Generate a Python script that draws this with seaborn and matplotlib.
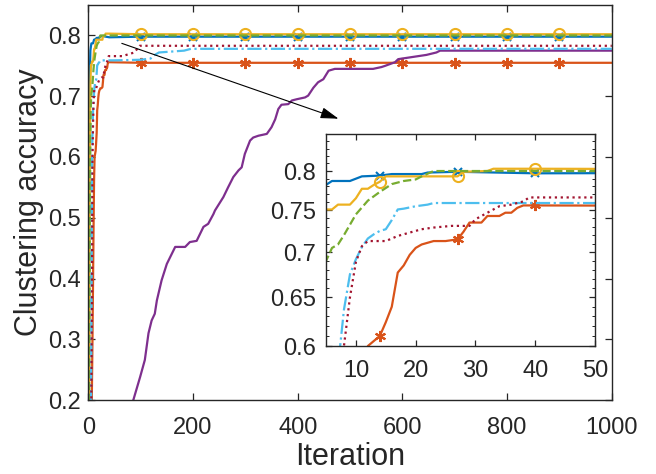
import matplotlib
matplotlib.use("Agg")
import matplotlib.pyplot as plt
import seaborn as sns
from matplotlib.ticker import FixedLocator, NullFormatter

# ---------------- data ----------------
main_marks = [100, 200, 300, 400, 500, 600, 700, 800, 900]
inset_marks = [14, 27, 40]

blue_x = [1, 2, 3, 4, 5, 6, 9, 10, 11, 14, 15, 16, 21, 22, 27, 40,
          100, 200, 300, 400, 500, 600, 700, 800, 900, 1000]
blue_y = [0.15, 0.55, 0.74, 0.775, 0.782, 0.787, 0.787, 0.790, 0.793, 0.794, 0.795, 0.796, 0.796, 0.798, 0.799, 0.797,
          0.798, 0.798, 0.798, 0.798, 0.798, 0.798, 0.798, 0.798, 0.798, 0.798]

orange_x = [1, 6, 8, 10, 11, 12, 13, 14, 15, 16, 17, 18, 19, 20, 21, 23, 25, 27, 28, 29, 31, 32, 34, 35, 36, 37, 38, 40,
            100, 200, 300, 400, 500, 600, 700, 800, 900, 1000]
orange_y = [0.05, 0.15, 0.30, 0.48, 0.56, 0.600, 0.605, 0.610, 0.624, 0.640, 0.677, 0.685, 0.697, 0.705, 0.709, 0.713,
            0.713, 0.715, 0.724, 0.735, 0.735, 0.743, 0.743, 0.747, 0.747, 0.753, 0.756, 0.756,
            0.755, 0.755, 0.755, 0.755, 0.755, 0.755, 0.755, 0.755, 0.755, 0.755]

yellow_x = [1, 2, 3, 4, 5, 6, 7, 9, 10, 11, 12, 13, 14, 15, 20, 27, 28, 32, 33, 40,
            100, 200, 300, 400, 500, 600, 700, 800, 900, 1000]
yellow_y = [0.10, 0.35, 0.60, 0.72, 0.751, 0.751, 0.757, 0.757, 0.765, 0.777, 0.777, 0.782, 0.786, 0.793, 0.793,
            0.793, 0.799, 0.800, 0.803, 0.803,
            0.802, 0.802, 0.802, 0.802, 0.802, 0.802, 0.802, 0.802, 0.802, 0.802]

purple_x = [1, 80, 86, 99, 108, 115, 121, 127, 131, 140, 150, 166, 185, 194, 207, 220, 229, 239, 242, 258, 267, 277,
            287, 293, 299, 309, 315, 325, 341, 350, 357, 363, 369, 382, 389, 398, 414, 420, 430, 439, 449, 459, 471,
            544, 560, 567, 586, 592, 615, 646, 665, 672, 1000]
purple_y = [0.10, 0.185, 0.200, 0.238, 0.266, 0.310, 0.331, 0.342, 0.364, 0.397, 0.424, 0.452, 0.452, 0.460, 0.462,
            0.485, 0.490, 0.506, 0.512, 0.534, 0.550, 0.567, 0.578, 0.583, 0.605, 0.627, 0.632, 0.635, 0.638, 0.649,
            0.662, 0.679, 0.686, 0.687, 0.693, 0.695, 0.698, 0.701, 0.714, 0.723, 0.728, 0.742, 0.745, 0.745, 0.748,
            0.750, 0.756, 0.761, 0.764, 0.768, 0.772, 0.775, 0.775]

green_x = [1, 2, 3, 4, 5, 6, 7, 8, 10, 12, 14, 16, 18, 20, 21, 23,
           100, 200, 300, 400, 500, 600, 700, 800, 900, 1000]
green_y = [0.10, 0.30, 0.50, 0.63, 0.69, 0.705, 0.709, 0.720, 0.745, 0.762, 0.773, 0.783, 0.787, 0.789, 0.793, 0.800,
           0.800, 0.800, 0.800, 0.800, 0.800, 0.800, 0.800, 0.800, 0.800, 0.800]

lightblue_x = [1, 5, 6, 7, 8, 9, 10, 11, 12, 13, 14, 15, 16, 17, 18, 20, 22, 23, 50, 100, 119, 125, 135, 183, 196,
               200, 300, 400, 500, 600, 700, 800, 900, 1000]
lightblue_y = [0.05, 0.15, 0.35, 0.58, 0.637, 0.675, 0.692, 0.706, 0.716, 0.721, 0.725, 0.727, 0.738, 0.751, 0.752,
               0.755, 0.757, 0.759, 0.759, 0.760, 0.762, 0.767, 0.772, 0.775, 0.778,
               0.778, 0.778, 0.778, 0.778, 0.778, 0.778, 0.778, 0.778, 0.778]

darkred_x = [1, 5, 7, 8, 9, 10, 11, 12, 15, 17, 19, 21, 23, 26, 29, 30, 32, 34, 36, 38, 39, 65, 88, 98, 100,
             200, 300, 400, 500, 600, 700, 800, 900, 1000]
darkred_y = [0.05, 0.12, 0.35, 0.60, 0.65, 0.689, 0.707, 0.713, 0.713, 0.719, 0.723, 0.727, 0.729, 0.731, 0.731,
             0.739, 0.747, 0.755, 0.757, 0.761, 0.766, 0.766, 0.772, 0.783, 0.783,
             0.783, 0.783, 0.783, 0.783, 0.783, 0.783, 0.783, 0.783, 0.783]

main_xticks = [0, 200, 400, 600, 800, 1000]
main_yticks = [0.2, 0.3, 0.4, 0.5, 0.6, 0.7, 0.8]
inset_xticks = [10, 20, 30, 40, 50]
inset_yticks = [0.6, 0.65, 0.7, 0.75, 0.8]
inset_ytick_labels = ["0.6", "0.65", "0.7", "0.75", "0.8"]
inset_yminor = [0.61, 0.62, 0.63, 0.64, 0.66, 0.67, 0.68, 0.69, 0.71, 0.72, 0.73, 0.74,
                0.76, 0.77, 0.78, 0.79, 0.81, 0.82, 0.83, 0.84]

# ---------------- style ----------------
sns.set_theme(style="ticks")
plt.rcParams["font.family"] = ["Liberation Sans", "DejaVu Sans"]
TXT = "#262626"
plt.rcParams.update({
    "text.color": TXT, "axes.labelcolor": TXT, "xtick.color": TXT, "ytick.color": TXT,
    "axes.edgecolor": TXT,
})

series = [
    (blue_x, blue_y, "#0072BD", "-", "x", 6),
    (orange_x, orange_y, "#D95319", "-", (6, 2, 0), 8),
    (yellow_x, yellow_y, "#EDB120", "-", "o", 8),
    (purple_x, purple_y, "#7E2F8E", "-", None, 0),
    (green_x, green_y, "#77AC30", "--", None, 0),
    (lightblue_x, lightblue_y, "#4DBEEE", "-.", None, 0),
    (darkred_x, darkred_y, "#A2142F", ":", None, 0),
]

fig = plt.figure(figsize=(6.56, 4.74), dpi=100)
ax = fig.add_axes([0.1346, 0.156, 0.798, 0.8333])
axin = fig.add_axes([0.497, 0.270, 0.410, 0.447])


def draw(target, marks):
    for xs, ys, col, ls, mk, ms in series:
        kw = dict(x=xs, y=ys, ax=target, color=col, linestyle=ls, linewidth=1.6,
                  estimator=None, sort=False)
        if mk is not None:
            kw.update(marker=mk, markersize=ms, markevery=[i for i, v in enumerate(xs) if v in marks],
                      markeredgecolor=col, markerfacecolor="none" if mk == "o" else col,
                      markeredgewidth=1.5)
        sns.lineplot(**kw)


draw(ax, main_marks)
draw(axin, inset_marks)

# main axes
ax.set_xlim(0, 1000)
ax.set_ylim(0.2, 0.85)
ax.set_xticks(main_xticks)
ax.set_yticks(main_yticks)
ax.set_xticklabels([str(v) for v in main_xticks])
ax.set_yticklabels([f"{v:.1f}" for v in main_yticks])
ax.tick_params(direction="in", length=5, width=0.9, top=True, right=True, labelsize=17)
ax.tick_params(axis="y", pad=5)
ax.tick_params(axis="x", pad=12)
ax.set_xlabel("Iteration", fontsize=22, labelpad=2)
ax.set_ylabel("Clustering accuracy", fontsize=22, labelpad=3)
for s in ax.spines.values():
    s.set_linewidth(1.0)
    s.set_visible(True)

ax.annotate("", xy=(478, 0.663), xytext=(64, 0.787), xycoords="data",
            arrowprops=dict(arrowstyle="-|>,head_length=0.55,head_width=0.17", color="black",
                            lw=0.8, mutation_scale=20, shrinkA=0, shrinkB=0))

# inset axes
axin.set_yscale("log")
axin.set_xlim(5, 50)
axin.set_ylim(0.6, 0.85)
axin.set_xticks(inset_xticks)
axin.set_xticklabels([str(v) for v in inset_xticks])
axin.yaxis.set_major_locator(FixedLocator(inset_yticks))
axin.yaxis.set_minor_locator(FixedLocator(inset_yminor))
axin.yaxis.set_minor_formatter(NullFormatter())
axin.set_yticks(inset_yticks)
axin.set_yticklabels(inset_ytick_labels)
axin.xaxis.set_minor_locator(FixedLocator([]))
axin.tick_params(which="major", direction="in", length=4, width=0.9, top=True, right=True, labelsize=17)
axin.tick_params(axis="y", which="major", pad=7)
axin.tick_params(axis="x", which="major", pad=10)
axin.tick_params(which="minor", direction="in", length=2.5, width=0.7, left=True, right=True)
axin.set_xlabel("")
axin.set_ylabel("")
for s in axin.spines.values():
    s.set_linewidth(1.0)
    s.set_visible(True)

fig.savefig("out.png", dpi=100)
